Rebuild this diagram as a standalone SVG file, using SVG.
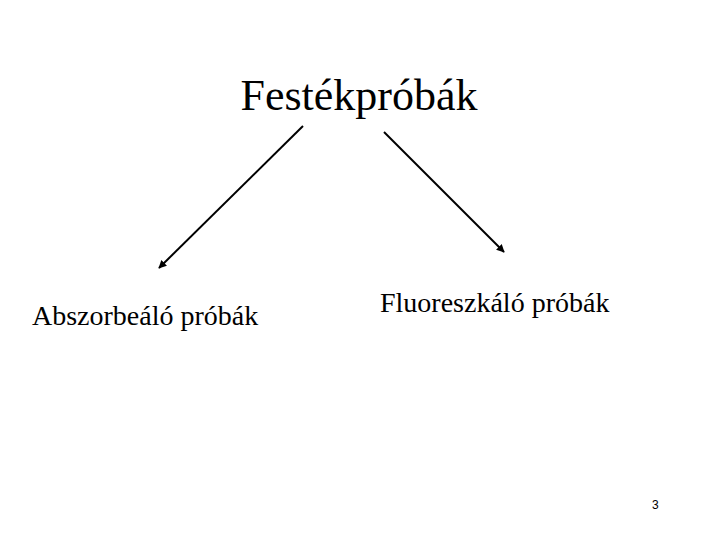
<svg xmlns="http://www.w3.org/2000/svg" width="720" height="540" viewBox="0 0 720 540">
<style>
.t{font-family:"Liberation Serif","Times New Roman",serif;fill:#000}
.c{stroke:#000;stroke-width:2;fill:none}
</style>
<defs>
<marker id="ah" viewBox="0 0 10 10" refX="9" refY="5" markerWidth="4" markerHeight="4" orient="auto" markerUnits="strokeWidth">
<path d="M0,0 L10,5 L0,10 z" fill="#000"/>
</marker>
</defs>
<rect width="720" height="540" fill="#fff"/>
<g id="connectors">
<line class="c" x1="303" y1="126" x2="159" y2="268" marker-end="url(#ah)"/>
<line class="c" x1="384" y1="132" x2="504" y2="252" marker-end="url(#ah)"/>
</g>
<g id="root"><text class="t" x="359" y="110" font-size="44" text-anchor="middle">Festékpróbák</text></g>
<g id="abs"><text class="t" x="32" y="325" font-size="28">Abszorbeáló próbák</text></g>
<g id="fluo"><text class="t" x="380" y="312" font-size="28">Fluoreszkáló próbák</text></g>
<g id="page"><text x="652" y="509" font-size="12" font-family="Liberation Sans, Arial, sans-serif">3</text></g>
</svg>
